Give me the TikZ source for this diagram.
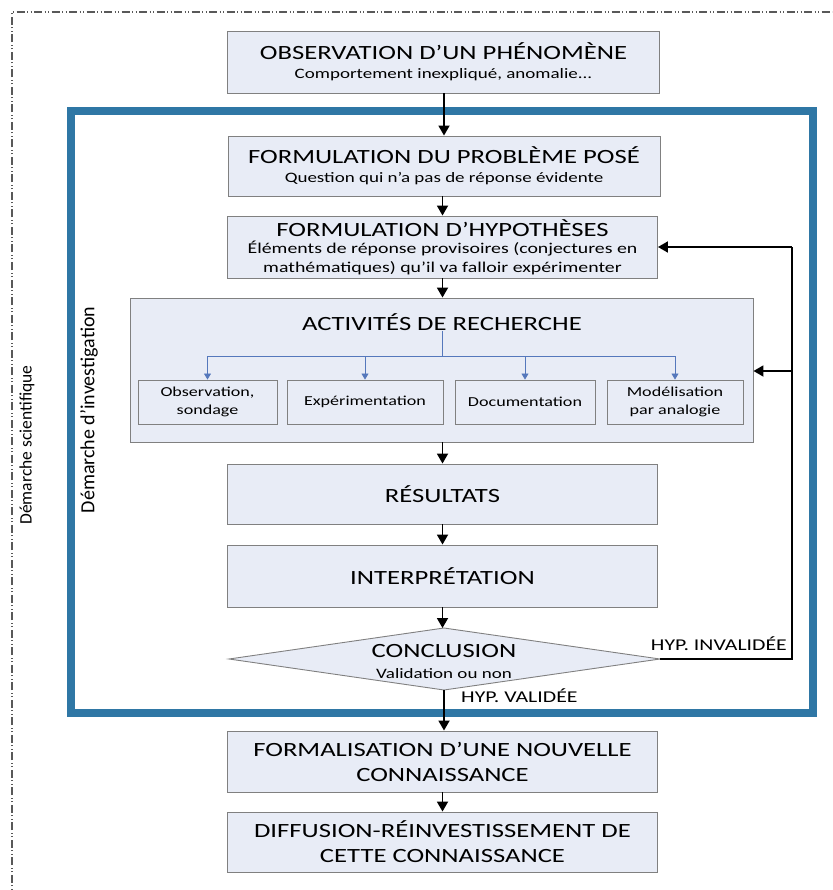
\documentclass[tikz,border=0pt]{standalone}
\usepackage{fontspec}
\setmainfont[FakeStretch=1.32]{Carlito}
\newfontfamily\plainfont{Carlito}
\usetikzlibrary{arrows.meta}
\definecolor{boxfill}{HTML}{E8ECF6}
\definecolor{boxline}{HTML}{808080}
\definecolor{frameblue}{HTML}{2F77A5}
\definecolor{subblue}{HTML}{5578BC}
\newcommand{\ttl}[1]{{\fontsize{20.2}{24}\selectfont #1}}
\begin{document}
\begin{tikzpicture}[x=1pt,y=-1pt,
  box/.style={draw=boxline, fill=boxfill, line width=0.9pt, inner sep=0pt, align=center},
  twoline/.style={box, font=\fontsize{14.4}{19}\selectfont},
  titlebox/.style={box, font=\fontsize{20.2}{25}\selectfont},
  smallbox/.style={box, minimum height=44pt, font=\fontsize{13.7}{17.5}\selectfont},
  mainarrow/.style={line width=1.8pt, -{Triangle[length=10pt,width=11pt]}},
  subarrow/.style={draw=subblue, line width=0.8pt, -{Triangle[length=6pt,width=7pt]}},
  lbl/.style={font=\fontsize{16.5}{19}\selectfont, inner sep=0pt}
]
\useasboundingbox (0,0) rectangle (832,890);
\begin{scope}
\clip (0,0) rectangle (832,890);
\draw[black!65, line width=1.3pt, dash pattern=on 8pt off 2.5pt on 1pt off 2.5pt on 1pt off 2.5pt] (12,900) -- (12,12) -- (850,12);
\end{scope}

% blue frame
\draw[frameblue, line width=8pt] (71,111) rectangle (813,713);

% boxes
\node[twoline, minimum width=432pt, minimum height=62pt] (obs) at (443.5,62)
  {\ttl{OBSERVATION D’UN PHÉNOMÈNE}\\Comportement inexpliqué, anomalie...};
\node[twoline, minimum width=432pt, minimum height=60pt] (prob) at (444,166)
  {\ttl{FORMULATION DU PROBLÈME POSÉ}\\Question qui n’a pas de réponse évidente};
\node[box, font=\fontsize{15}{18}\selectfont, minimum width=430pt, minimum height=62pt] (hyp) at (442.5,247)
  {\ttl{FORMULATION D’HYPOTHÈSES}\\[-1pt]Éléments de réponse provisoires (conjectures en\\[1pt]mathématiques) qu’il va falloir expérimenter};
\node[box, minimum width=623pt, minimum height=144pt] (act) at (441.5,370) {};
\node[font=\fontsize{20.2}{24}\selectfont, inner sep=0pt] (acttitle) at (442,322) {ACTIVITÉS DE RECHERCHE};
\node[smallbox, minimum width=139pt] (o1) at (207.5,402) {Observation,\\sondage};
\node[smallbox, minimum width=156pt] (o2) at (365,402) {Expérimentation};
\node[smallbox, minimum width=140pt] (o3) at (525,402) {Documentation};
\node[smallbox, minimum width=136pt] (o4) at (675,402) {Modélisation\\par analogie};
\node[titlebox, minimum width=430pt, minimum height=60pt] (res) at (442.5,494) {RÉSULTATS};
\node[titlebox, minimum width=430pt, minimum height=62pt] (interp) at (442.5,576) {INTERPRÉTATION};

% conclusion diamond
\coordinate (cW) at (229,659);
\coordinate (cN) at (444,628);
\coordinate (cE) at (660,659);
\coordinate (cS) at (444,690);
\draw[draw=boxline, fill=boxfill, line width=0.9pt] (cW) -- (cN) -- (cE) -- (cS) -- cycle;
\node[align=center, inner sep=0pt, font=\fontsize{14.4}{21}\selectfont] (concl) at (444,661)
  {\ttl{CONCLUSION}\\Validation ou non};

\node[titlebox, minimum width=430pt, minimum height=61pt] (formal) at (442.5,761.5)
  {FORMALISATION D’UNE NOUVELLE\\CONNAISSANCE};
\node[titlebox, minimum width=430pt, minimum height=60pt] (diff) at (442.5,842)
  {DIFFUSION-RÉINVESTISSEMENT DE\\CETTE CONNAISSANCE};

% side labels
\node[rotate=90, font=\plainfont\fontsize{17.5}{20}\selectfont, inner sep=0pt] (sci) at (27,445) {Démarche scientifique};
\node[rotate=90, font=\plainfont\fontsize{20}{22}\selectfont, inner sep=0pt] (inv) at (89,410) {Démarche d’investigation};

% main arrows
\draw[mainarrow] (obs.south -| prob.north) -- (prob.north);
\draw[mainarrow] (prob.south -| hyp.north) -- (hyp.north);
\draw[mainarrow] (hyp.south) -- (hyp.south |- act.north);
\draw[mainarrow] (act.south -| res.north) -- (res.north);
\draw[mainarrow] (res.south) -- (interp.north);
\draw[mainarrow] (interp.south) -- (interp.south |- cN);
\draw[mainarrow] (cS) -- (cS |- formal.north);
\draw[mainarrow] (formal.south) -- (diff.north);

% feedback loop
\coordinate (lc) at (792,659);
\draw[line width=1.8pt] (cE) -- (lc) -- (lc |- hyp.east);
\draw[mainarrow] (lc |- hyp.east) -- (hyp.east);
\coordinate (lb) at (792,371);
\draw[mainarrow] (lb) -- (act.east |- lb);

\node[lbl, anchor=base east] (inval) at (787,650) {HYP. INVALIDÉE};
\node[lbl, anchor=base west] (val) at (461,702) {HYP. VALIDÉE};

% sub arrows
\coordinate (split) at (442,356);
\draw[subblue, line width=0.8pt] (acttitle.south) -- (split);
\draw[subblue, line width=0.8pt] (o1.north |- split) -- (o4.north |- split);
\foreach \n in {o1,o2,o3,o4} \draw[subarrow] (\n.north |- split) -- (\n.north);
\end{tikzpicture}
\end{document}
